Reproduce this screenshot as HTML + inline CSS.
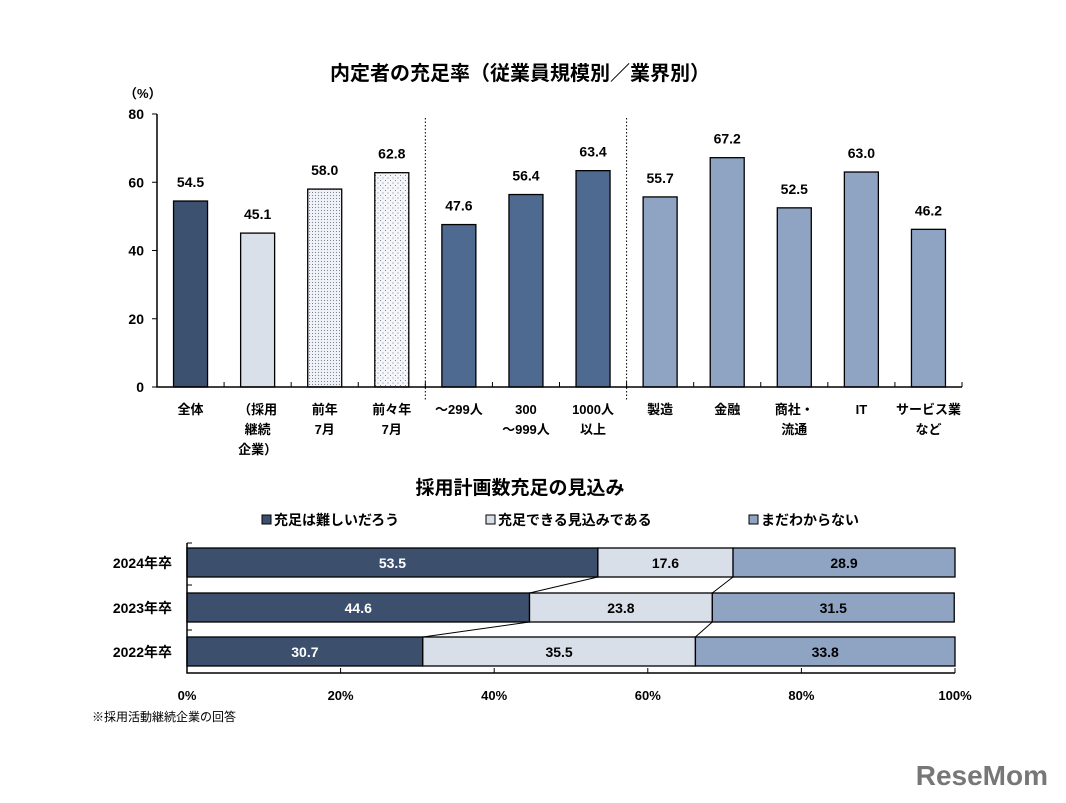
<!DOCTYPE html>
<html><head><meta charset="utf-8">
<style>
body{margin:0;background:#fff;width:1066px;height:798px;overflow:hidden;font-family:"Liberation Sans","Noto Sans CJK JP",sans-serif;}
svg text{font-family:"Liberation Sans","Noto Sans CJK JP",sans-serif;}
#top text,#bot text{font-weight:bold;}
</style></head>
<body>
<svg id="c" width="1066" height="798" xmlns="http://www.w3.org/2000/svg">
<defs>
<pattern id="dots1" width="3" height="3" patternUnits="userSpaceOnUse"><rect width="3" height="3" fill="#eef1f5"/><rect width="1" height="1" fill="#7b8494"/></pattern>
<pattern id="dots2" width="5" height="5" patternUnits="userSpaceOnUse"><rect width="5" height="5" fill="#f4f6f9"/><rect width="1" height="1" fill="#7b8494"/><rect x="2.5" y="2.5" width="1" height="1" fill="#7b8494"/></pattern>
</defs>
<text x="520" y="80" font-size="20" font-weight="bold" text-anchor="middle">内定者の充足率（従業員規模別／業界別）</text>
<text x="124" y="98" font-size="13" font-weight="bold">（%）</text>
<text x="520" y="494" font-size="19" font-weight="bold" text-anchor="middle">採用計画数充足の見込み</text>
<text x="92" y="721" font-size="12">※採用活動継続企業の回答</text>
<text x="1048" y="785" font-size="28" font-weight="bold" fill="#777" text-anchor="end">ReseMom</text>
<g id="top"></g>
<g id="bot"></g>
</svg>
<script>
const NS="http://www.w3.org/2000/svg";
const cats=[["全体"],["（採用","継続","企業）"],["前年","7月"],["前々年","7月"],["～299人"],["300","～999人"],["1000人","以上"],["製造"],["金融"],["商社・","流通"],["IT"],["サービス業","など"]];
const values=[54.5,45.1,58.0,62.8,47.6,56.4,63.4,55.7,67.2,52.5,63.0,46.2];
const fills=["#3c516f","#d9e0ea","url(#dots1)","url(#dots2)","#4e6a91","#4e6a91","#4e6a91","#8fa4c3","#8fa4c3","#8fa4c3","#8fa4c3","#8fa4c3"];
const yTicks=[0,20,40,60,80];
const years=["2024年卒","2023年卒","2022年卒"];
const sHard=[53.5,44.6,30.7];
const sCan=[17.6,23.8,35.5];
const sUnk=[28.9,31.5,33.8];
const xTicks=[0,20,40,60,80,100];

function mk(tag,attrs,parent,text){const e=document.createElementNS(NS,tag);for(const k in attrs)e.setAttribute(k,attrs[k]);if(text!==undefined)e.textContent=text;parent.appendChild(e);return e;}
const gTop=document.getElementById('top'), gBot=document.getElementById('bot');
const X0=157,X1=962,Y0=387,Y1=114;
const y=v=>Y0-(v/80)*(Y0-Y1);
const bw=(X1-X0)/cats.length;
const xc=i=>X0+bw*(i+0.5);
yTicks.forEach(t=>{
 const l=mk('line',{x1:X0-5,x2:X0,y1:y(t),y2:y(t),stroke:'#000'},gTop);
 
 
 const tx=mk('text',{x:X0-13,y:y(t)+5,'font-size':14,'text-anchor':'end'},gTop,String(t));
 
 
});
values.forEach((v,i)=>{
 const r=mk('rect',{x:xc(i)-17,y:y(v),width:34,height:Y0-y(v),fill:fills[i],stroke:'#000','stroke-width':1.3},gTop);
 
 
 const t=mk('text',{x:xc(i),y:y(v)-14,'font-size':14,'text-anchor':'middle'},gTop,v.toFixed(1));
 
 
 cats[i].forEach((s,j)=>{
  const c=mk('text',{x:xc(i),y:414+j*20,'font-size':13,'text-anchor':'middle'},gTop,s);
  
  
 });
 const tk=mk('line',{x1:X0+bw*(i+1),x2:X0+bw*(i+1),y1:Y0,y2:Y0-5,stroke:'#000'},gTop);
 
 
});
const ax=mk('path',{d:`M${X0} ${Y1}V${Y0}H${X1}`,fill:'none',stroke:'#000','stroke-width':1.5},gTop);


[4,7].forEach(i=>{
 const d=mk('line',{x1:X0+bw*i,x2:X0+bw*i,y1:118,y2:400,stroke:'#000','stroke-dasharray':'1.5 2'},gTop);
 
 
});
const B0=187,B1=955,BY=673;
const bx=v=>B0+(B1-B0)*v/100;
const rowY=[548,593,637], rh=29;
const legend=[["充足は難しいだろう","#3c506d",262],["充足できる見込みである","#d9dfe9",486],["まだわからない","#8fa3c2",749]];
legend.forEach(l=>{
 const r=mk('rect',{x:l[2],y:515,width:9,height:9,fill:l[1],stroke:'#000'},gBot);
 
 
 const t=mk('text',{x:l[2]+12,y:525,'font-size':14},gBot,l[0]);
 
 
});
years.forEach((yr,i)=>{
 const segs=[[sHard[i],'#3c506d','#fff'],[sCan[i],'#d9dfe9','#000'],[sUnk[i],'#8fa3c2','#000']];
 let acc=0;
 segs.forEach((s,k)=>{
  const r=mk('rect',{x:bx(acc),y:rowY[i],width:bx(acc+s[0])-bx(acc),height:rh,fill:s[1],stroke:'#000','stroke-width':1.3},gBot);
  
  
  const t=mk('text',{x:(bx(acc)+bx(acc+s[0]))/2,y:rowY[i]+20,'font-size':14,'text-anchor':'middle',fill:s[2]},gBot,s[0].toFixed(1));
  
  
  acc+=s[0];
 });
 const yl=mk('text',{x:172,y:rowY[i]+20,'font-size':14,'text-anchor':'end'},gBot,yr);
 
 
 if(i<years.length-1){
  [sHard[i],sHard[i]+sCan[i]].forEach((v,k)=>{
   const v2=k===0?sHard[i+1]:sHard[i+1]+sCan[i+1];
   const ln=mk('line',{x1:bx(v),y1:rowY[i]+rh,x2:bx(v2),y2:rowY[i+1],stroke:'#000'},gBot);
   
   
  });
 }
});
[543,585,630,673].forEach(yy=>{
 const t=mk('line',{x1:B0,x2:B0+5,y1:yy,y2:yy,stroke:'#000'},gBot);
 
 
});
xTicks.forEach(t=>{
 const l=mk('line',{x1:bx(t),x2:bx(t),y1:BY,y2:BY-5,stroke:'#000'},gBot);
 
 
 const tx=mk('text',{x:bx(t),y:BY+27,'font-size':13,'text-anchor':'middle'},gBot,t+'%');
 
 
});
const bax=mk('path',{d:`M${B0} 543V${BY}H${B1}`,fill:'none',stroke:'#000','stroke-width':1.5},gBot);


</script>
</body></html>
